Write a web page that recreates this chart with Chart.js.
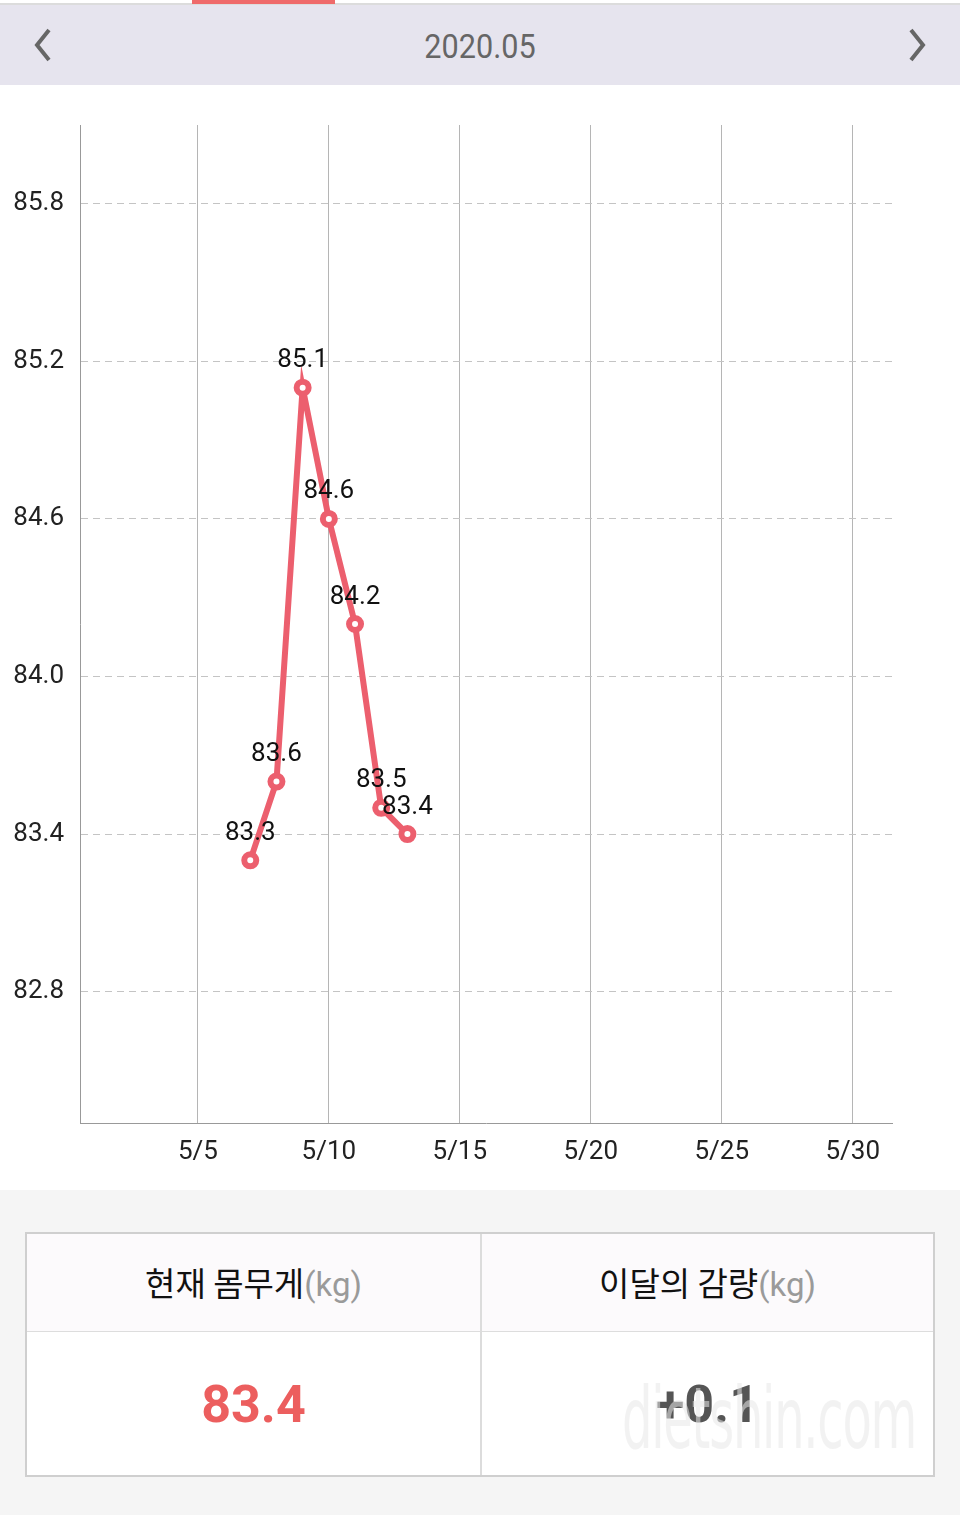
<!DOCTYPE html>
<html><head><meta charset="utf-8">
<script src="https://cdn.jsdelivr.net/npm/chart.js@4/dist/chart.umd.min.js"></script>
<style>
html,body{margin:0;padding:0;background:#fff;width:960px;height:1515px;overflow:hidden;font-family:Roboto,"Noto Sans CJK KR",sans-serif;}
#topline{position:absolute;left:0;top:3px;width:960px;height:2px;background:#dcdcdc;}
#tab{position:absolute;left:192px;top:0;width:143px;height:4px;background:#ef6a6a;}
#hdr{position:absolute;left:0;top:5px;width:960px;height:80px;background:#e6e4ee;}
#hdr .t{position:absolute;left:0;width:960px;top:21px;text-align:center;font-size:34px;color:#666;font-family:Roboto,sans-serif;transform:scaleX(0.9);transform-origin:480px 0;}
#hdr svg{position:absolute;top:22px;}
#wrap{position:absolute;left:0;top:85px;width:960px;height:1105px;}
#bottom{position:absolute;left:0;top:1190px;width:960px;height:325px;background:#f5f5f5;}
#tbl{position:absolute;left:25px;top:42px;width:906px;height:241px;border:2px solid #cfcfcf;background:#fff;}
.hc{position:absolute;top:0;height:97px;background:#fcfafc;border-bottom:1px solid #dddddd;text-align:center;line-height:96px;font-size:33px;color:#111;font-family:"Noto Sans CJK KR",sans-serif;}
.hc span{color:#9a9a9a;font-family:Roboto,sans-serif;}
.vc{position:absolute;top:98px;height:143px;text-align:center;line-height:146px;font-size:52px;font-weight:bold;font-family:Roboto,sans-serif;}
#div{position:absolute;left:453px;top:0;width:2px;height:241px;background:#dcdcdc;}
#wm{position:absolute;left:622px;top:1368px;font-size:86px;font-family:"Liberation Sans Narrow","DejaVu Sans Condensed",sans-serif;color:rgba(232,232,232,0.55);transform:scaleX(0.62);transform-origin:left top;letter-spacing:-2px;}
</style></head><body>
<div id="topline"></div><div id="tab"></div>
<div id="hdr">
<svg style="left:30px" width="26" height="36" viewBox="0 0 26 36"><polyline points="19,3 7,18 19,33" fill="none" stroke="#666" stroke-width="4"/></svg>
<div class="t">2020.05</div>
<svg style="left:904px" width="26" height="36" viewBox="0 0 26 36"><polyline points="7,3 19,18 7,33" fill="none" stroke="#666" stroke-width="4"/></svg>
</div>
<div id="wrap"><canvas id="c" width="960" height="1105"></canvas></div>
<div id="bottom">
<div id="tbl">
<div class="hc" style="left:0;width:453px">현재 몸무게<span>(kg)</span></div>
<div class="hc" style="left:455px;width:451px">이달의 감량<span>(kg)</span></div>
<div id="div"></div>
<div class="vc" style="left:0;width:453px;color:#ec5e5e">83.4</div>
<div class="vc" style="left:455px;width:451px;color:#555">+0.1</div>
</div>
</div>
<div id="wm">dietshin.com</div>
<script>
const days = [7, 8, 9, 10, 11, 12, 13];
const weights = [83.3, 83.6, 85.1, 84.6, 84.2, 83.5, 83.4];
const xTicks = [5, 10, 15, 20, 25, 30];
const yTicks = [82.8, 83.4, 84.0, 84.6, 85.2, 85.8];

const labelPlugin = {
  id: 'valLabels',
  afterDatasetsDraw(chart) {
    const ctx = chart.ctx;
    const meta = chart.getDatasetMeta(0);
    ctx.save();
    ctx.font = '26px Roboto, sans-serif';
    ctx.fillStyle = '#111';
    ctx.textAlign = 'center';
    ctx.textBaseline = 'middle';
    meta.data.forEach((pt, i) => {
      ctx.fillText(weights[i].toFixed(1), pt.x, pt.y - 27);
    });
    ctx.restore();
  }
};

new Chart(document.getElementById('c'), {
  type: 'line',
  data: {
    datasets: [{
      data: days.map((d, i) => ({x: d, y: weights[i]})),
      borderColor: '#ec5f6e',
      borderWidth: 6,
      pointRadius: 6,
      pointBorderWidth: 6,
      pointBackgroundColor: '#fff',
      pointBorderColor: '#ec5f6e',
      tension: 0,
      fill: false
    }]
  },
  options: {
    responsive: false,
    animation: false,
    events: [],
    layout: {padding: {left: 0, right: 68, top: 40, bottom: 0}},
    plugins: {legend: {display: false}, tooltip: {enabled: false}},
    scales: {
      x: {
        type: 'linear', min: 0.5, max: 31.5,
        afterBuildTicks: s => { s.ticks = xTicks.map(v => ({value: v})); },
        afterFit: s => { s.height = 67; },
        grid: {color: '#b5b5b5', lineWidth: 1, drawTicks: false},
        border: {color: '#999', width: 1},
        ticks: {padding: 14, color: '#222', font: {size: 26, family: 'Roboto'}, callback: v => '5/' + v, maxRotation: 0, autoSkip: false}
      },
      y: {
        type: 'linear', min: 82.3, max: 86.1,
        afterBuildTicks: s => { s.ticks = yTicks.map(v => ({value: v})); },
        afterFit: s => { s.width = 80; },
        grid: {color: '#c4c4c4', lineWidth: 1, drawTicks: false},
        border: {color: '#999', width: 1, dash: [7, 5]},
        ticks: {padding: 16, color: '#222', font: {size: 26, family: 'Roboto'}, callback: v => v.toFixed(1), autoSkip: false}
      }
    }
  },
  plugins: [labelPlugin]
});
</script>
</body></html>
